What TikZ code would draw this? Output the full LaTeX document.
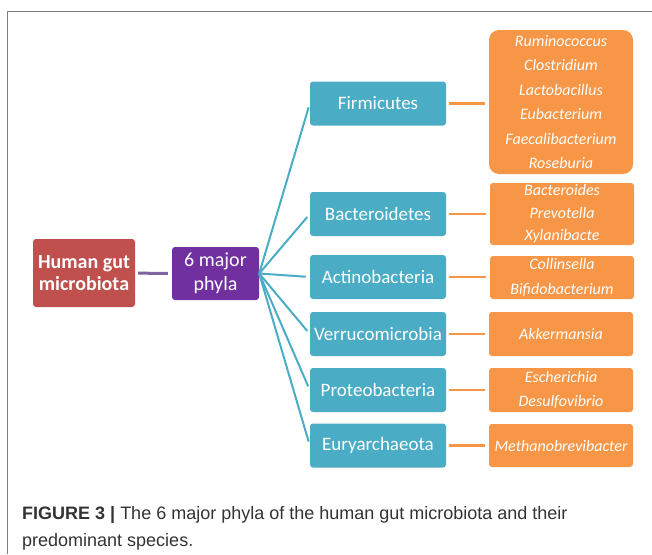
\documentclass[tikz,border=0pt]{standalone}
\usepackage{fontspec}
\setmainfont{Carlito}
\newfontfamily\capfont{Liberation Sans}
\usetikzlibrary{positioning}
\definecolor{gutred}{HTML}{C0504D}
\definecolor{hubpurple}{HTML}{7030A0}
\definecolor{linkpurple}{HTML}{8064A2}
\definecolor{phylumteal}{HTML}{4BACC6}
\definecolor{genusorange}{HTML}{F79646}
\definecolor{framegray}{HTML}{7F7F7F}
\definecolor{captext}{HTML}{333333}
\tikzset{
    basic/.style  = {rectangle, rounded corners=3pt, text=white, align=center, inner sep=0pt},
    root/.style   = {basic, fill=gutred, minimum width=102pt, minimum height=68pt,
                     font=\fontsize{20}{22}\selectfont\bfseries},
    hub/.style    = {basic, fill=hubpurple, minimum width=87pt, minimum height=53pt,
                     font=\fontsize{20}{24}\selectfont},
    phylum/.style = {basic, fill=phylumteal, minimum width=136pt, minimum height=44pt,
                     font=\fontsize{19}{22}\selectfont},
    genus/.style  = {basic, fill=genusorange, minimum width=144pt,
                     font=\fontsize{16}{24.5}\selectfont\itshape},
    link/.style   = {line width=2pt, shorten <=3pt, shorten >=4pt}
}

\begin{document}
\begin{tikzpicture}[x=1pt, y=-1pt]
    \useasboundingbox (0,0) rectangle (652,554);
    % frame
    \draw[framegray, line width=1.5pt] (7.5,554) -- (7.5,11.5) -- (652,11.5);

    \node[root] (gut) at (84,273) {Human gut\\microbiota};
    \node[hub] (hub) at (215.5,273.5) {6 major\\phyla};

    % phyla
    \node[phylum] (firm) at (378,103.5) {Firmicutes};
    \node[phylum] (bact) at (378,214) {Bacteroidetes};
    \node[phylum] (acti) at (378,277) {Actinobacteria};
    \node[phylum] (verr) at (378,334) {Verrucomicrobia};
    \node[phylum] (prot) at (378,390) {Proteobacteria};
    \node[phylum] (eury) at (378,445.5) {Euryarchaeota};

    % genera
    \node[genus, minimum height=144pt, rounded corners=10pt] (firm-sp) at (561,102)
        {Ruminococcus\\Clostridium\\Lactobacillus\\Eubacterium\\Faecalibacterium\\Roseburia};
    \node[genus, minimum height=62pt, font=\fontsize{16}{22.5}\selectfont\itshape] (bact-sp) at (562,214)
        {Bacteroides\\Prevotella\\Xylanibacte};
    \node[genus, minimum height=43pt] (acti-sp) at (562,277.5) {Collinsella\\Bifidobacterium};
    \node[genus, minimum height=44pt] (verr-sp) at (561,334) {Akkermansia};
    \node[genus, minimum height=44pt] (prot-sp) at (561,390) {Escherichia\\Desulfovibrio};
    \node[genus, minimum height=43pt] (eury-sp) at (561,445.5) {Methanobrevibacter};

    \draw[link, linkpurple, line width=3pt] (gut) -- (hub);
    \foreach \p in {firm,bact,acti,verr,prot,eury}{
        \draw[link, phylumteal, shorten <=0pt] (hub.east) -- (\p.west);
        \draw[link, genusorange, line width=2.5pt] (\p.east) -- (\p.east -| \p-sp.west);
    }

    % caption
    \node[anchor=base west, inner sep=0pt, text=captext, align=left,
          font=\capfont\fontsize{18}{27}\selectfont] (cap) at (22,546)
        {\textbf{FIGURE 3 |} The 6 major phyla of the human gut microbiota and their\\
         predominant species.};
\end{tikzpicture}
\end{document}
